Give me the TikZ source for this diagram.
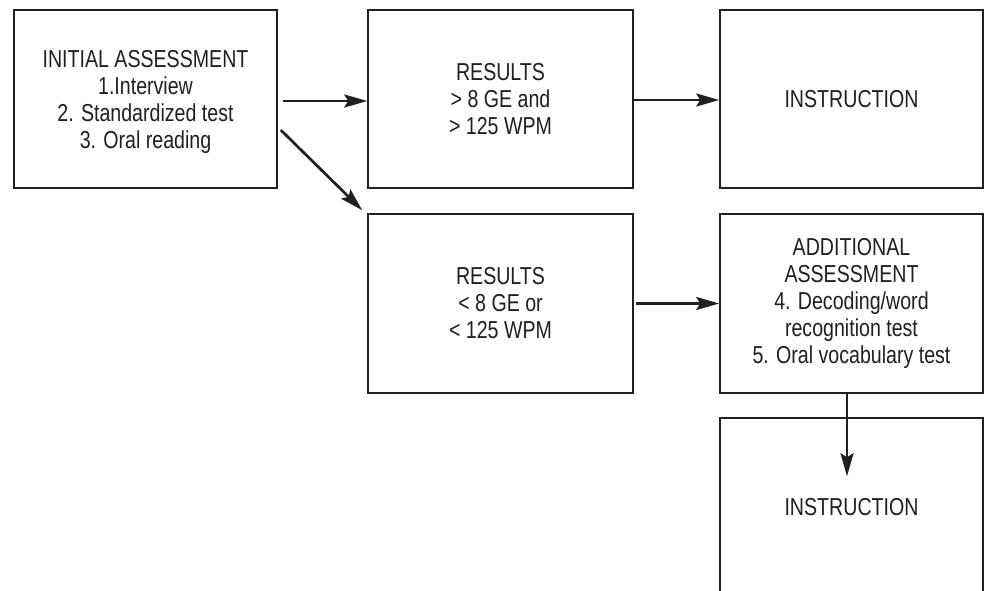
\documentclass[tikz,border=0pt]{standalone}
\usepackage{fontspec}
\setmainfont{Liberation Sans}[FakeStretch=0.8]
\usetikzlibrary{arrows.meta}
\definecolor{ink}{HTML}{231F20}
\begin{document}
\begin{tikzpicture}[x=1pt,y=-1pt,
  box/.style={draw=ink,line width=1.6pt,align=center,text=ink,inner sep=0pt,
    font=\fontsize{24.5}{27}\selectfont},
  arr/.style={draw=ink,line width=2.7pt,-{Stealth[length=23pt,width=13pt,inset=4pt]}}]
\useasboundingbox (0,0) rectangle (984,590);
\fill[white] (0,0) rectangle (984,590);
\node[box,minimum width=263pt,minimum height=178pt,text depth=0pt] (b1) at (145.5,99)
  {INITIAL ASSESSMENT\\1.Interview\\2. Standardized test\\3. Oral reading};
\node[box,minimum width=265pt,minimum height=178pt] (b2) at (500.5,99)
  {RESULTS\\> 8 GE and\\> 125 WPM};
\node[box,minimum width=263pt,minimum height=178pt] (b3) at (851.5,99)
  {INSTRUCTION};
\node[box,minimum width=265pt,minimum height=179pt] (b4) at (500.5,303.5)
  {RESULTS\\< 8 GE or\\< 125 WPM};
\node[box,minimum width=263pt,minimum height=179pt] (b5) at (851.5,303.5)
  {ADDITIONAL\\ASSESSMENT\\4. Decoding/word\\recognition test\\5. Oral vocabulary test};
\node[box,minimum width=263pt,minimum height=178pt] (b6) at (851.5,507)
  {INSTRUCTION};
\draw[arr] ([xshift=5pt,yshift=-2pt]b1.east) -- ([yshift=-2pt]b2.west);
\draw[arr] ([xshift=3pt,yshift=-31pt]b1.east) -- ([xshift=-5pt,yshift=3pt]b4.north west);
\draw[arr] ([yshift=-1pt]b2.east) -- ([yshift=-1pt]b3.west);
\draw[arr] ([xshift=2pt]b4.east) -- (b5.west);
\coordinate (v6) at ([xshift=-4.5pt,yshift=-59pt]b6.north);
\draw[arr] ([xshift=-4.5pt]b5.south) -- (v6);
\end{tikzpicture}
\end{document}
